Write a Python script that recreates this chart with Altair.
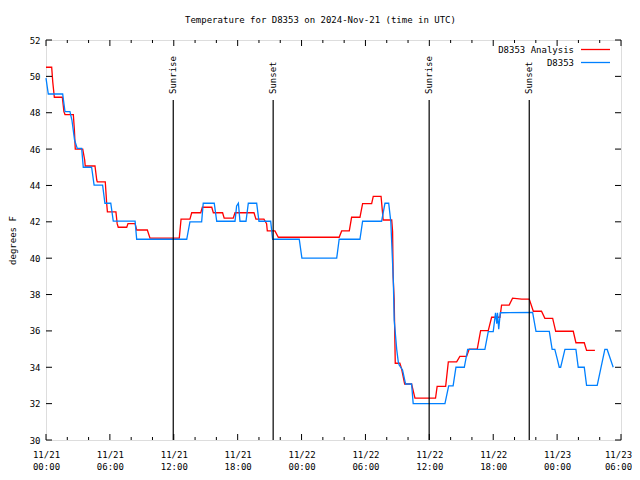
import altair as alt
import pandas as pd

# ---------------- data ----------------
title_text = "Temperature for D8353 on 2024-Nov-21 (time in UTC)"
series_names = ["D8353 Analysis", "D8353"]

# (hours since 2024-11-21 00:00 UTC, degrees F)
analysis_points = [
    (0.00, 50.5), (0.54, 50.5), (0.63, 49.7), (0.78, 48.85), (1.53, 48.85),
    (1.69, 48.06), (1.78, 47.9), (2.56, 47.9), (2.66, 47.05), (2.75, 46.0),
    (3.45, 46.0), (3.63, 45.4), (3.69, 45.07), (4.60, 45.07), (4.76, 44.3),
    (4.82, 44.2), (5.57, 44.2), (5.70, 43.0), (5.76, 42.55), (6.57, 42.55),
    (6.69, 41.9), (6.79, 41.7), (7.58, 41.7), (7.70, 41.9), (8.36, 41.9),
    (8.52, 41.55), (9.51, 41.55), (9.77, 41.1), (12.52, 41.1), (12.68, 42.15),
    (13.52, 42.15), (13.68, 42.5), (14.53, 42.5), (14.68, 42.8), (15.56, 42.8),
    (15.71, 42.5), (16.59, 42.5), (16.74, 42.2), (17.59, 42.2), (17.75, 42.5),
    (19.53, 42.5), (19.72, 42.15), (20.47, 42.15), (20.72, 41.9), (20.78, 41.5),
    (21.50, 41.5), (21.81, 41.15), (27.54, 41.15), (27.77, 41.5), (28.48, 41.5),
    (28.70, 42.25), (29.48, 42.25), (29.74, 43.0), (30.58, 43.0), (30.73, 43.4),
    (31.46, 43.4), (31.67, 42.1), (32.46, 42.1), (32.55, 41.46), (32.60, 39.0),
    (32.70, 37.7), (32.80, 34.22), (33.24, 34.22), (33.40, 33.9), (33.68, 33.08),
    (34.34, 33.08), (34.65, 32.3), (36.59, 32.3), (36.74, 32.95), (37.53, 32.95),
    (37.78, 34.3), (38.56, 34.3), (38.87, 34.6), (39.50, 34.6), (39.75, 35.0),
    (40.50, 35.0), (40.82, 36.02), (41.53, 36.02), (41.85, 36.75), (42.63, 36.75),
    (42.79, 37.42), (43.50, 37.42), (43.82, 37.8), (44.67, 37.75), (45.38, 37.75),
    (45.76, 37.08), (46.54, 37.08), (46.85, 36.69), (47.58, 36.69), (47.86, 35.98),
    (49.51, 35.98), (49.77, 35.35), (50.55, 35.35), (50.77, 34.93), (51.55, 34.93),
]

observed_points = [
    (0.00, 49.9), (0.12, 49.43), (0.22, 49.03), (1.57, 49.03), (1.69, 48.5),
    (1.78, 48.06), (2.25, 48.06), (2.44, 47.6), (2.69, 46.5), (2.94, 46.04),
    (3.35, 46.04), (3.50, 45.0), (4.29, 45.0), (4.51, 44.02), (5.32, 44.02),
    (5.54, 43.02), (6.08, 43.02), (6.32, 42.04), (8.36, 42.04), (8.52, 41.04),
    (13.21, 41.04), (13.52, 42.0), (14.62, 42.0), (14.77, 43.02), (15.80, 43.02),
    (16.03, 42.03), (17.75, 42.03), (17.90, 42.87), (18.06, 43.02), (18.22, 42.03),
    (18.78, 42.03), (19.00, 43.02), (19.78, 43.02), (20.00, 42.03), (21.10, 42.03),
    (21.29, 41.04), (23.78, 41.04), (24.04, 40.0), (27.30, 40.0), (27.54, 41.04),
    (29.48, 41.04), (29.74, 42.03), (31.52, 42.03), (31.83, 43.02), (32.18, 43.02),
    (32.39, 42.0), (32.61, 38.8), (32.70, 36.6), (32.93, 35.0), (33.08, 34.3),
    (33.17, 34.12), (33.49, 33.85), (33.77, 33.08), (34.34, 33.08), (34.49, 32.0),
    (37.46, 32.0), (37.81, 32.98), (38.24, 32.98), (38.50, 34.0), (39.28, 34.0),
    (39.60, 34.98), (41.22, 34.98), (41.53, 35.96), (42.00, 35.96), (42.22, 37.0),
    (42.33, 36.4), (42.40, 37.0), (42.52, 36.1), (42.66, 37.0), (45.70, 37.02),
    (46.01, 35.97), (47.26, 35.97), (47.54, 34.98), (47.79, 34.98), (48.01, 34.45),
    (48.20, 34.0), (48.33, 34.0), (48.51, 34.45), (48.73, 34.98), (49.77, 34.98),
    (49.98, 34.0), (50.55, 34.0), (50.77, 33.0), (51.77, 33.0), (52.49, 34.98),
    (52.70, 34.98), (53.27, 34.0),
]

event_names = ["Sunrise", "Sunset", "Sunrise", "Sunset"]
event_hours = [11.95, 21.33, 35.99, 45.38]

y_tick_values = list(range(30, 53, 2))
x_major_hours = list(range(0, 55, 6))
x_minor_hours = [h for h in range(0, 55, 2) if h % 6 != 0]

# ---------------- helpers ----------------
BASE = pd.Timestamp("2024-11-21T00:00:00")


def iso(h):
    return (BASE + pd.Timedelta(minutes=round(h * 60))).strftime("%Y-%m-%dT%H:%M:00Z")


def dt(h):
    t = BASE + pd.Timedelta(hours=h)
    return alt.DateTime(year=t.year, month=t.month, date=t.day, hours=t.hour,
                        minutes=t.minute, utc=True)


last_ms = int((BASE + pd.Timedelta(hours=x_major_hours[-1])).tz_localize("UTC").timestamp() * 1000)

W, H = 575, 400
FONT = "DejaVu Sans Mono"
FS = 9
RED = "#ff0000"
BLUE = "#0080ff"

xscale = alt.Scale(type="utc", domain=[dt(0), dt(54)])
yscale = alt.Scale(domain=[30, 52], nice=False, zero=False)

red_df = pd.DataFrame({"t": [iso(h) for h, _ in analysis_points],
                       "v": [v for _, v in analysis_points]})
blue_df = pd.DataFrame({"t": [iso(h) for h, _ in observed_points],
                        "v": [v for _, v in observed_points]})
ev_df = pd.DataFrame({"t": [iso(h) for h in event_hours], "name": event_names})
ytick_df = pd.DataFrame({"v": y_tick_values})
xmaj_df = pd.DataFrame({"t": [iso(h) for h in x_major_hours]})
xmin_df = pd.DataFrame({"t": [iso(h) for h in x_minor_hours]})

x_axis = alt.Axis(
    values=[dt(h) for h in x_major_hours],
    labelExpr="[utcFormat(datum.value, '%m/%d'), utcFormat(datum.value, '%H:%M')]",
    ticks=False, domain=False, grid=False, title=None,
    labelPadding=10, labelLineHeight=12, labelFont=FONT, labelFontSize=FS,
    labelColor="black", labelFlush=False, labelOverlap=False, labelBound=False,
    labelOffset={"condition": {"test": f"datum.value >= {last_ms}", "value": -3}, "value": 0},
)
y_axis = alt.Axis(
    values=y_tick_values, ticks=False, domain=False, grid=False,
    title="degrees F", titleFont=FONT, titleFontSize=FS, titleFontWeight="normal",
    titleColor="black", titlePadding=12,
    labelPadding=6, labelFont=FONT, labelFontSize=FS, labelColor="black",
    labelOverlap=False, labelFlush=False, labelBound=False,
)

XA = alt.X("t:T", scale=xscale, axis=x_axis)
YA = alt.Y("v:Q", scale=yscale, axis=y_axis)

red_line = alt.Chart(red_df).mark_line(color=RED, strokeWidth=1.3, interpolate="linear").encode(
    x=XA, y=YA,
)
blue_line = alt.Chart(blue_df).mark_line(color=BLUE, strokeWidth=1.3, interpolate="linear").encode(
    x=XA, y=YA,
)

ev_rules = alt.Chart(ev_df).mark_rule(color="black", strokeWidth=1.2).encode(
    x=XA, y=alt.value(H * 0.15), y2=alt.value(H),
)
ev_text = alt.Chart(ev_df).mark_text(
    angle=270, align="left", baseline="middle", font=FONT, fontSize=FS, color="black"
).encode(x=XA, y=alt.value(H * 0.15 - 6), text="name:N")

# inward tick marks on all four sides
yt_left = alt.Chart(ytick_df).mark_rule(color="black").encode(
    y=YA, x=alt.value(0), x2=alt.value(6))
yt_right = alt.Chart(ytick_df).mark_rule(color="black").encode(
    y=YA, x=alt.value(W - 6), x2=alt.value(W))
xt_bot = alt.Chart(xmaj_df).mark_rule(color="black").encode(
    x=XA, y=alt.value(H - 6), y2=alt.value(H))
xt_top = alt.Chart(xmaj_df).mark_rule(color="black").encode(
    x=XA, y=alt.value(0), y2=alt.value(6))
xm_bot = alt.Chart(xmin_df).mark_rule(color="black").encode(
    x=XA, y=alt.value(H - 3), y2=alt.value(H))
xm_top = alt.Chart(xmin_df).mark_rule(color="black").encode(
    x=XA, y=alt.value(0), y2=alt.value(3))

# legend (gnuplot style: label, then line sample)
leg_df = pd.DataFrame({"name": series_names})
leg_red_text = alt.Chart(leg_df.iloc[[0]]).mark_text(
    align="right", baseline="middle", font=FONT, fontSize=FS, color="black"
).encode(x=alt.value(528), y=alt.value(10), text="name:N")
leg_blue_text = alt.Chart(leg_df.iloc[[1]]).mark_text(
    align="right", baseline="middle", font=FONT, fontSize=FS, color="black"
).encode(x=alt.value(528), y=alt.value(23), text="name:N")
leg_red_line = alt.Chart(leg_df.iloc[[0]]).mark_rule(color=RED, strokeWidth=1.3).encode(
    x=alt.value(535), x2=alt.value(564), y=alt.value(9.5))
leg_blue_line = alt.Chart(leg_df.iloc[[1]]).mark_rule(color=BLUE, strokeWidth=1.3).encode(
    x=alt.value(535), x2=alt.value(564), y=alt.value(22.5))

chart = alt.layer(
    red_line, blue_line, ev_rules, ev_text,
    yt_left, yt_right, xt_bot, xt_top, xm_bot, xm_top,
    leg_red_text, leg_blue_text, leg_red_line, leg_blue_line,
).properties(
    width=W, height=H,
    title=alt.TitleParams(title_text, font=FONT, fontSize=FS, fontWeight="normal",
                          color="black", anchor="middle", dx=-13, offset=11),
    autosize=alt.AutoSizeParams(type="none"),
    padding={"left": 38, "top": 32, "right": 11, "bottom": 32},
).configure_view(
    stroke="black", strokeWidth=1
).configure(background="white")

chart.save("out.html", embed_options={"renderer": "svg", "actions": False})
